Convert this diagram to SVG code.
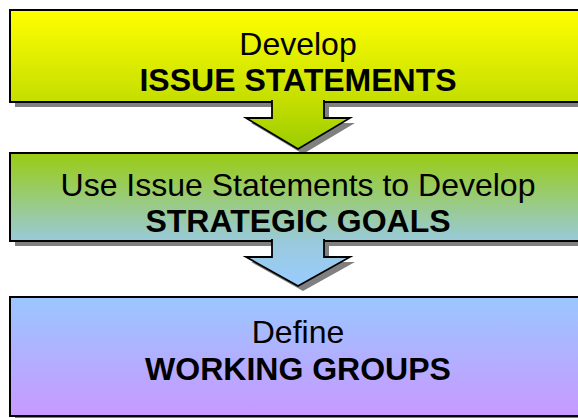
<svg xmlns="http://www.w3.org/2000/svg" width="578" height="418" viewBox="0 0 578 418">
  <style>
    .shadow { fill: #808080; stroke: none; }
    .box { fill: url(#flow); stroke: #000000; stroke-width: 2; }
    .arrow { fill: url(#flow); stroke: #000000; stroke-width: 1.8; stroke-linejoin: miter; }
    .t { font-family: "Liberation Sans", Arial, sans-serif; font-size: 32px; fill: #000000; text-anchor: middle; }
    .b { font-weight: bold; }
  </style>
  <defs>
    <linearGradient id="flow" gradientUnits="userSpaceOnUse" x1="0" y1="0" x2="0" y2="418">
      <stop offset="0.024" stop-color="#ffff00"/>
      <stop offset="0.244" stop-color="#c4de00"/>
      <stop offset="0.359" stop-color="#9acc00"/>
      <stop offset="0.383" stop-color="#99cc22"/>
      <stop offset="0.577" stop-color="#99cadb"/>
      <stop offset="0.682" stop-color="#99ccff"/>
      <stop offset="0.718" stop-color="#9cc6ff"/>
      <stop offset="0.998" stop-color="#c898ff"/>
    </linearGradient>
  </defs>
  <rect width="578" height="418" fill="#ffffff"/>

  <g id="node-issue-statements">
    <rect class="shadow" x="15" y="15" width="578" height="92"/>
    <rect class="box" x="10" y="10" width="578" height="92"/>
    <text class="t" x="298" y="55">Develop</text>
    <text class="t b" x="298" y="91">ISSUE STATEMENTS</text>
  </g>

  <g id="connectors">
    <g id="arrow-1">
      <path class="shadow" d="M277,105 V123 H251 L303,154 L355,123 H329 V105 Z"/>
      <path class="arrow" d="M272,100 V118 H246 L298,149 L350,118 H324 V100"/>
    </g>
  </g>

  <g id="node-strategic-goals">
    <rect class="shadow" x="15" y="158" width="578" height="88"/>
    <rect class="box" x="10" y="153" width="578" height="88"/>
    <text class="t" x="298" y="196">Use Issue Statements to Develop</text>
    <text class="t b" x="298" y="232">STRATEGIC GOALS</text>
  </g>

  <g id="connectors-2">
    <g id="arrow-2">
      <path class="shadow" d="M277,244 V262 H251 L303,291 L355,262 H329 V244 Z"/>
      <path class="arrow" d="M272,239 V257 H246 L298,286 L350,257 H324 V239"/>
    </g>
  </g>

  <g id="node-working-groups">
    <rect class="shadow" x="15" y="302" width="578" height="119"/>
    <rect class="box" x="10" y="297" width="578" height="119"/>
    <text class="t" x="298" y="343">Define</text>
    <text class="t b" x="298" y="380">WORKING GROUPS</text>
  </g>
</svg>
